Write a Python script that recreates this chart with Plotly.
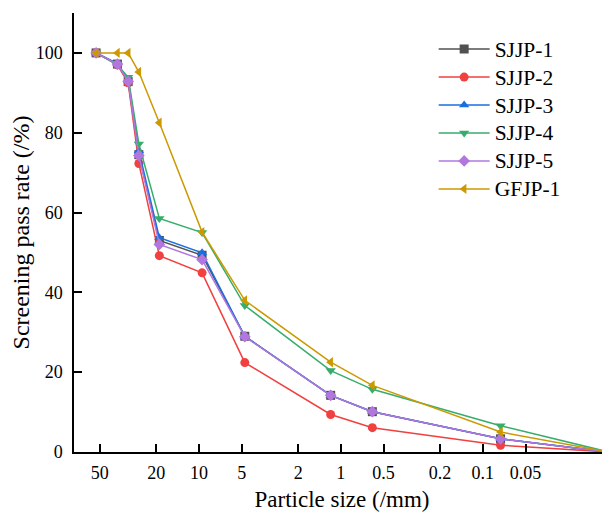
import plotly.graph_objects as go

# Particle sizes (mm) and screening pass rates (%)
sizes = [53, 37.5, 31.5, 26.5, 19, 9.5, 4.75, 1.18, 0.6, 0.075, 0.013]
sjjp1 = [100, 97.2, 92.8, 74.5, 53.0, 49.3, 29.0, 14.2, 10.1, 3.3, 0]
sjjp2 = [100, 97.0, 92.5, 72.3, 49.2, 44.9, 22.4, 9.4, 6.1, 1.7, 0]
sjjp3 = [100, 97.3, 93.2, 75.5, 53.7, 49.9, 29.0, 14.2, 10.1, 3.3, 0]
sjjp4 = [100, 97.0, 93.9, 77.2, 58.5, 55.0, 36.7, 20.4, 15.7, 6.6, 0]
sjjp5 = [100, 97.2, 92.9, 74.3, 52.0, 48.2, 28.9, 14.2, 10.1, 3.3, 0]
gfjp1 = [100, 100, 100, 95.2, 82.5, 55.1, 38.0, 22.5, 16.7, 5.0, 0]

names = ["SJJP-1", "SJJP-2", "SJJP-3", "SJJP-4", "SJJP-5", "GFJP-1"]
series = [sjjp1, sjjp2, sjjp3, sjjp4, sjjp5, gfjp1]
colors = ["#515151", "#F14040", "#1A6FDF", "#37AD6B", "#B177DE", "#CC9900"]
symbols = ["square", "circle", "triangle-up", "triangle-down", "diamond", "triangle-left"]

x_ticks = [50, 20, 10, 5, 2, 1, 0.5, 0.2, 0.1, 0.05]
x_ticktext = ["50", "20", "10", "5", "2", "1", "0.5", "0.2", "0.1", "0.05"]
y_ticks = [0, 20, 40, 60, 80, 100]

font_family = "Liberation Serif, Times New Roman, serif"

fig = go.Figure()
for name, ys, c, s in zip(names, series, colors, symbols):
    fig.add_trace(go.Scatter(
        x=sizes, y=ys,
        name="<span style='font-size:21.5px'>" + name + "</span>",
        mode="lines+markers",
        line=dict(color=c, width=1.5),
        marker=dict(symbol=s, size=9, color=c),
        cliponaxis=False,
    ))

fig.update_layout(
    width=602, height=507,
    margin=dict(l=66, r=0, t=5, b=62.5),
    paper_bgcolor="white", plot_bgcolor="white",
    font=dict(family=font_family, color="black", size=18),
    showlegend=True,
    legend=dict(
        x=0.671, y=0.961, xanchor="left", yanchor="top",
        bgcolor="rgba(0,0,0,0)", borderwidth=0,
        font=dict(family=font_family, size=19.2, color="black"),
        itemwidth=51,
    ),
    xaxis=dict(
        type="log", range=[1.880, -1.896],
        tickmode="array", tickvals=x_ticks, ticktext=x_ticktext,
        ticks="inside", ticklen=8, tickwidth=1.5, tickcolor="black",
        showline=True, linecolor="black", linewidth=1.5,
        showgrid=False, zeroline=False,
        ticklabelstandoff=4,
        title=dict(text="Particle size (/mm)", font=dict(size=23), standoff=9),
    ),
    yaxis=dict(
        range=[0, 110],
        tickmode="array", tickvals=y_ticks,
        ticks="inside", ticklen=8, tickwidth=1.5, tickcolor="black",
        showline=True, linecolor="black", linewidth=1.5,
        showgrid=False, zeroline=False,
        ticklabelstandoff=6,
        title=dict(text="Screening pass rate (/%)", font=dict(size=24), standoff=4),
    ),
)

fig.write_html("out.html")
